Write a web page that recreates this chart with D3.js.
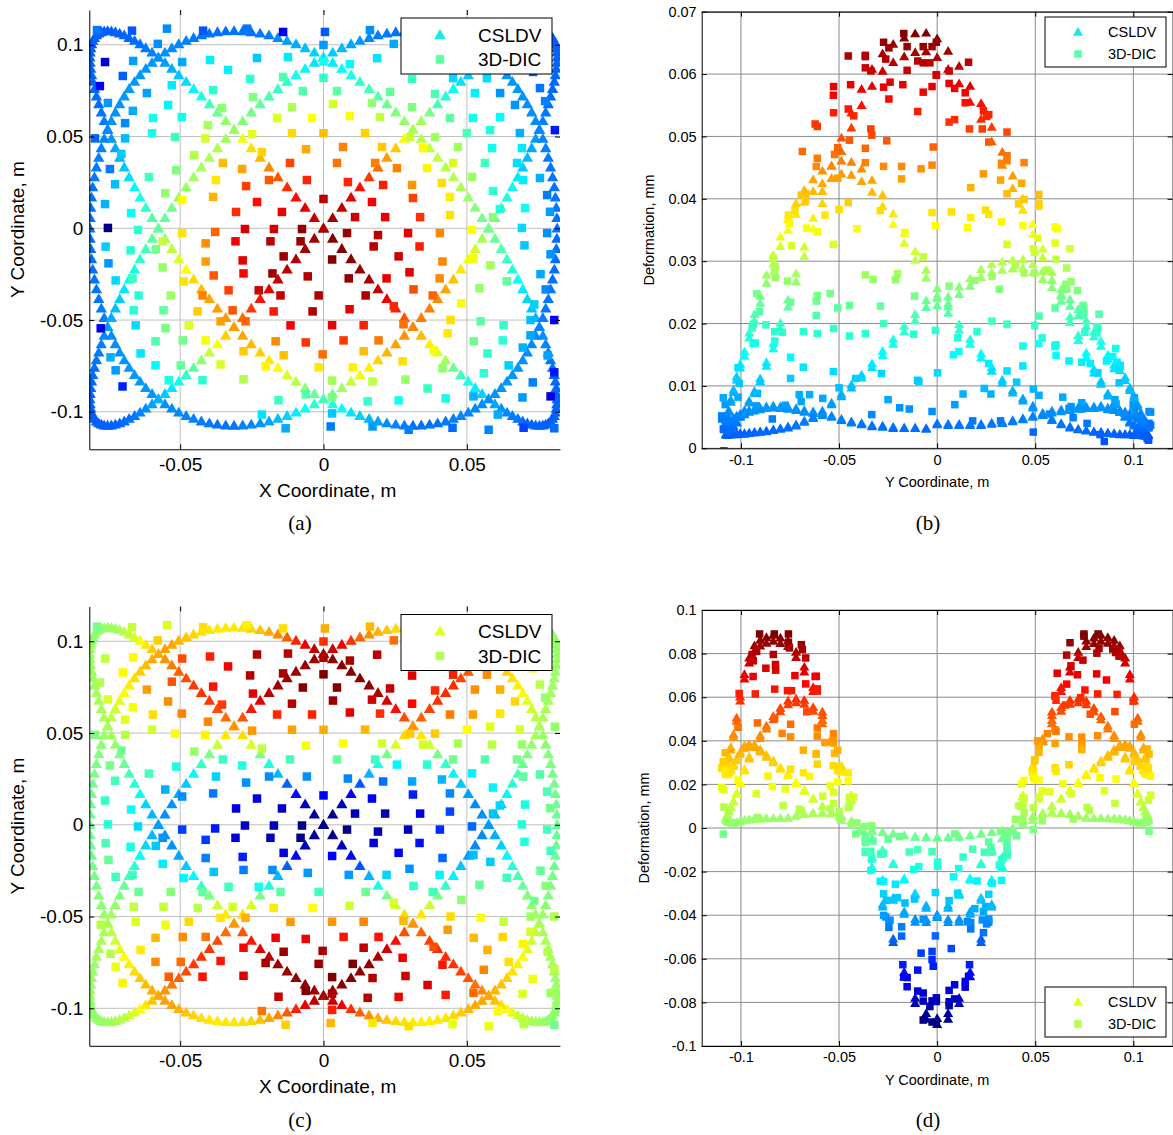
<!DOCTYPE html>
<html><head><meta charset="utf-8">
<script src="https://cdn.jsdelivr.net/npm/d3@7"></script>
<style>body{margin:0;background:#fff}</style>
</head><body>
<svg id="fig" width="1173" height="1135"></svg>
<script>
// CSLDV scan points: X/Y position on the plate (m)
const scanX = [
0,.0032,.0064,.0096,.0127,.0159,.0190,.0221,.0252,.0282,.0312,.0341,.0370,.0398,.0426,.0453,.0479,.0505,.0529,.0553,.0576,.0598,.0620,.0640,.0659,.0678,.0695,.0711,.0726,.0740,.0753,.0765,.0775,.0784,.0792,.0799,.0805,.0809,.0812,.0814,.0815,
.0814,.0812,.0809,.0805,.0799,.0792,.0784,.0775,.0765,.0753,.0740,.0726,.0711,.0695,.0678,.0659,.0640,.0620,.0598,.0576,.0553,.0529,.0505,.0479,.0453,.0426,.0398,.0370,.0341,.0312,.0282,.0252,.0221,.0190,.0159,.0127,.0096,.0064,.0032,0,
-.0032,-.0064,-.0096,-.0127,-.0159,-.0190,-.0221,-.0252,-.0282,-.0312,-.0341,-.0370,-.0398,-.0426,-.0453,-.0479,-.0505,-.0529,-.0553,-.0576,-.0598,-.0620,-.0640,-.0659,-.0678,-.0695,-.0711,-.0726,-.0740,-.0753,-.0765,-.0775,-.0784,-.0792,-.0799,-.0805,-.0809,-.0812,-.0814,-.0815,
-.0814,-.0812,-.0809,-.0805,-.0799,-.0792,-.0784,-.0775,-.0765,-.0753,-.0740,-.0726,-.0711,-.0695,-.0678,-.0659,-.0640,-.0620,-.0598,-.0576,-.0553,-.0529,-.0505,-.0479,-.0453,-.0426,-.0398,-.0370,-.0341,-.0312,-.0282,-.0252,-.0221,-.0190,-.0159,-.0127,-.0096,-.0064,-.0032,
0,.0032,.0064,.0096,.0127,.0159,.0190,.0221,.0252,.0282,.0312,.0341,.0370,.0398,.0426,.0453,.0479,.0505,.0529,.0553,.0576,.0598,.0620,.0640,.0659,.0678,.0695,.0711,.0726,.0740,.0753,.0765,.0775,.0784,.0792,.0799,.0805,.0809,.0812,.0814,.0815,
.0814,.0812,.0809,.0805,.0799,.0792,.0784,.0775,.0765,.0753,.0740,.0726,.0711,.0695,.0678,.0659,.0640,.0620,.0598,.0576,.0553,.0529,.0505,.0479,.0453,.0426,.0398,.0370,.0341,.0312,.0282,.0252,.0221,.0190,.0159,.0127,.0096,.0064,.0032,
0,-.0032,-.0064,-.0096,-.0127,-.0159,-.0190,-.0221,-.0252,-.0282,-.0312,-.0341,-.0370,-.0398,-.0426,-.0453,-.0479,-.0505,-.0529,-.0553,-.0576,-.0598,-.0620,-.0640,-.0659,-.0678,-.0695,-.0711,-.0726,-.0740,-.0753,-.0765,-.0775,-.0784,-.0792,-.0799,-.0805,-.0809,-.0812,-.0814,-.0815,
-.0814,-.0812,-.0809,-.0805,-.0799,-.0792,-.0784,-.0775,-.0765,-.0753,-.0740,-.0726,-.0711,-.0695,-.0678,-.0659,-.0640,-.0620,-.0598,-.0576,-.0553,-.0529,-.0505,-.0479,-.0453,-.0426,-.0398,-.0370,-.0341,-.0312,-.0282,-.0252,-.0221,-.0190,-.0159,-.0127,-.0096,-.0064,-.0032,0,
.0032,.0064,.0096,.0127,.0159,.0190,.0221,.0252,.0282,.0312,.0341,.0370,.0398,.0426,.0453,.0479,.0505,.0529,.0553,.0576,.0598,.0620,.0640,.0659,.0678,.0695,.0711,.0726,.0740,.0753,.0765,.0775,.0784,.0792,.0799,.0805,.0809,.0812,.0814,.0815,
.0814,.0812,.0809,.0805,.0799,.0792,.0784,.0775,.0765,.0753,.0740,.0726,.0711,.0695,.0678,.0659,.0640,.0620,.0598,.0576,.0553,.0529,.0505,.0479,.0453,.0426,.0398,.0370,.0341,.0312,.0282,.0252,.0221,.0190,.0159,.0127,.0096,.0064,.0032,
0,-.0032,-.0064,-.0096,-.0127,-.0159,-.0190,-.0221,-.0252,-.0282,-.0312,-.0341,-.0370,-.0398,-.0426,-.0453,-.0479,-.0505,-.0529,-.0553,-.0576,-.0598,-.0620,-.0640,-.0659,-.0678,-.0695,-.0711,-.0726,-.0740,-.0753,-.0765,-.0775,-.0784,-.0792,-.0799,-.0805,-.0809,-.0812,-.0814,-.0815,
-.0814,-.0812,-.0809,-.0805,-.0799,-.0792,-.0784,-.0775,-.0765,-.0753,-.0740,-.0726,-.0711,-.0695,-.0678,-.0659,-.0640,-.0620,-.0598,-.0576,-.0553,-.0529,-.0505,-.0479,-.0453,-.0426,-.0398,-.0370,-.0341,-.0312,-.0282,-.0252,-.0221,-.0190,-.0159,-.0127,-.0096,-.0064,-.0032
];
const scanY = [
0,.0056,.0112,.0168,.0224,.0278,.0332,.0385,.0437,.0488,.0538,.0585,.0632,.0677,.0719,.0760,.0799,.0835,.0870,.0902,.0931,.0958,.0982,.1004,.1022,.1038,.1052,.1062,.1069,.1074,.1075,
.1074,.1069,.1062,.1052,.1038,.1022,.1004,.0982,.0958,.0931,.0902,.0870,.0835,.0799,.0760,.0719,.0677,.0632,.0585,.0538,.0488,.0437,.0385,.0332,.0278,.0224,.0168,.0112,.0056,0,
-.0056,-.0112,-.0168,-.0224,-.0278,-.0332,-.0385,-.0437,-.0488,-.0538,-.0585,-.0632,-.0677,-.0719,-.0760,-.0799,-.0835,-.0870,-.0902,-.0931,-.0958,-.0982,-.1004,-.1022,-.1038,-.1052,-.1062,-.1069,-.1074,-.1075,
-.1074,-.1069,-.1062,-.1052,-.1038,-.1022,-.1004,-.0982,-.0958,-.0931,-.0902,-.0870,-.0835,-.0799,-.0760,-.0719,-.0677,-.0632,-.0585,-.0538,-.0488,-.0437,-.0385,-.0332,-.0278,-.0224,-.0168,-.0112,-.0056,
0,.0056,.0112,.0168,.0224,.0278,.0332,.0385,.0437,.0488,.0538,.0585,.0632,.0677,.0719,.0760,.0799,.0835,.0870,.0902,.0931,.0958,.0982,.1004,.1022,.1038,.1052,.1062,.1069,.1074,.1075,
.1074,.1069,.1062,.1052,.1038,.1022,.1004,.0982,.0958,.0931,.0902,.0870,.0835,.0799,.0760,.0719,.0677,.0632,.0585,.0538,.0488,.0437,.0385,.0332,.0278,.0224,.0168,.0112,.0056,0,
-.0056,-.0112,-.0168,-.0224,-.0278,-.0332,-.0385,-.0437,-.0488,-.0538,-.0585,-.0632,-.0677,-.0719,-.0760,-.0799,-.0835,-.0870,-.0902,-.0931,-.0958,-.0982,-.1004,-.1022,-.1038,-.1052,-.1062,-.1069,-.1074,-.1075,
-.1074,-.1069,-.1062,-.1052,-.1038,-.1022,-.1004,-.0982,-.0958,-.0931,-.0902,-.0870,-.0835,-.0799,-.0760,-.0719,-.0677,-.0632,-.0585,-.0538,-.0488,-.0437,-.0385,-.0332,-.0278,-.0224,-.0168,-.0112,-.0056,
0,.0056,.0112,.0168,.0224,.0278,.0332,.0385,.0437,.0488,.0538,.0585,.0632,.0677,.0719,.0760,.0799,.0835,.0870,.0902,.0931,.0958,.0982,.1004,.1022,.1038,.1052,.1062,.1069,.1074,.1075,
.1074,.1069,.1062,.1052,.1038,.1022,.1004,.0982,.0958,.0931,.0902,.0870,.0835,.0799,.0760,.0719,.0677,.0632,.0585,.0538,.0488,.0437,.0385,.0332,.0278,.0224,.0168,.0112,.0056,0,
-.0056,-.0112,-.0168,-.0224,-.0278,-.0332,-.0385,-.0437,-.0488,-.0538,-.0585,-.0632,-.0677,-.0719,-.0760,-.0799,-.0835,-.0870,-.0902,-.0931,-.0958,-.0982,-.1004,-.1022,-.1038,-.1052,-.1062,-.1069,-.1074,-.1075,
-.1074,-.1069,-.1062,-.1052,-.1038,-.1022,-.1004,-.0982,-.0958,-.0931,-.0902,-.0870,-.0835,-.0799,-.0760,-.0719,-.0677,-.0632,-.0585,-.0538,-.0488,-.0437,-.0385,-.0332,-.0278,-.0224,-.0168,-.0112,-.0056,
0,.0056,.0112,.0168,.0224,.0278,.0332,.0385,.0437,.0488,.0538,.0585,.0632,.0677,.0719,.0760,.0799,.0835,.0870,.0902,.0931,.0958,.0982,.1004,.1022,.1038,.1052,.1062,.1069,.1074,.1075,
.1074,.1069,.1062,.1052,.1038,.1022,.1004,.0982,.0958,.0931,.0902,.0870,.0835,.0799,.0760,.0719,.0677,.0632,.0585,.0538,.0488,.0437,.0385,.0332,.0278,.0224,.0168,.0112,.0056,0,
-.0056,-.0112,-.0168,-.0224,-.0278,-.0332,-.0385,-.0437,-.0488,-.0538,-.0585,-.0632,-.0677,-.0719,-.0760,-.0799,-.0835,-.0870,-.0902,-.0931,-.0958,-.0982,-.1004,-.1022,-.1038,-.1052,-.1062,-.1069,-.1074,-.1075,
-.1074,-.1069,-.1062,-.1052,-.1038,-.1022,-.1004,-.0982,-.0958,-.0931,-.0902,-.0870,-.0835,-.0799,-.0760,-.0719,-.0677,-.0632,-.0585,-.0538,-.0488,-.0437,-.0385,-.0332,-.0278,-.0224,-.0168,-.0112,-.0056
];
// CSLDV deformation along the scan, mode 1 (mm)
const scanDefA = [
.0657,.0637,.0613,.0581,.0553,.0515,.0475,.0437,.0400,.0359,.0320,.0282,.0247,.0211,.0181,.0153,.0127,.0108,.0088,.0073,
.0061,.0052,.0043,.0038,.0032,.0028,.0025,.0024,.0023,.0022,.0022,.0022,.0021,.0021,.0021,.0022,.0022,.0022,.0023,.0023,
.0023,.0024,.0025,.0026,.0027,.0029,.0031,.0035,.0040,.0047,.0056,.0068,.0080,.0093,.0110,.0130,.0152,.0175,.0199,.0227,
.0256,.0286,.0316,.0345,.0376,.0406,.0430,.0448,.0459,.0461,.0453,.0445,.0431,.0414,.0393,.0367,.0339,.0310,.0278,.0244,
.0215,.0185,.0155,.0135,.0115,.0094,.0078,.0061,.0052,.0048,.0037,.0036,.0037,.0039,.0044,.0048,.0052,.0055,.0057,.0061,
.0063,.0065,.0067,.0068,.0067,.0066,.0064,.0061,.0059,.0056,.0052,.0047,.0043,.0040,.0037,.0036,.0034,.0033,.0033,.0032,
.0040,.0039,.0039,.0039,.0039,.0041,.0042,.0045,.0048,.0052,.0056,.0060,.0062,.0064,.0066,.0067,.0067,.0068,.0065,.0064,
.0061,.0059,.0056,.0053,.0049,.0043,.0039,.0038,.0035,.0035,.0036,.0037,.0037,.0044,.0047,.0057,.0070,.0084,.0097,.0114,
.0131,.0134,.0150,.0172,.0187,.0205,.0223,.0239,.0255,.0270,.0284,.0295,.0303,.0302,.0299,.0295,.0287,.0272,.0259,.0243,
.0240,.0237,.0215,.0196,.0175,.0156,.0136,.0118,.0102,.0087,.0073,.0060,.0050,.0044,.0038,.0035,.0032,.0030,.0028,.0027,
.0026,.0025,.0024,.0024,.0023,.0023,.0023,.0023,.0022,.0023,.0023,.0024,.0025,.0027,.0031,.0036,.0043,.0052,.0061,.0076,
.0092,.0112,.0138,.0168,.0201,.0238,.0280,.0323,.0369,.0412,.0453,.0498,.0538,.0576,.0608,.0633,.0648,.0658,.0665,.0666,
.0627,.0608,.0585,.0555,.0528,.0492,.0454,.0417,.0382,.0343,.0306,.0269,.0236,.0202,.0173,.0146,.0121,.0103,.0084,.0070,
.0058,.0050,.0041,.0036,.0031,.0027,.0024,.0023,.0022,.0021,.0021,.0021,.0020,.0020,.0020,.0021,.0021,.0021,.0022,.0022,
.0022,.0023,.0024,.0025,.0026,.0028,.0030,.0033,.0038,.0045,.0053,.0065,.0076,.0089,.0105,.0124,.0145,.0167,.0190,.0217,
.0244,.0273,.0302,.0329,.0359,.0388,.0411,.0428,.0438,.0440,.0433,.0425,.0412,.0395,.0375,.0350,.0324,.0296,.0265,.0233,
.0205,.0177,.0148,.0129,.0110,.0090,.0074,.0058,.0050,.0046,.0035,.0034,.0035,.0037,.0042,.0046,.0050,.0053,.0054,.0058,
.0060,.0062,.0064,.0065,.0064,.0063,.0061,.0058,.0056,.0053,.0050,.0045,.0041,.0038,.0035,.0034,.0032,.0032,.0032,.0031,
.0038,.0037,.0037,.0037,.0037,.0039,.0040,.0043,.0046,.0050,.0053,.0057,.0059,.0061,.0063,.0064,.0064,.0065,.0062,.0061,
.0058,.0056,.0053,.0051,.0047,.0041,.0037,.0036,.0033,.0033,.0034,.0035,.0035,.0042,.0045,.0054,.0067,.0080,.0093,.0109,
.0125,.0128,.0143,.0164,.0179,.0196,.0213,.0228,.0244,.0258,.0271,.0282,.0289,.0288,.0286,.0282,.0274,.0260,.0247,.0232,
.0229,.0226,.0205,.0187,.0167,.0149,.0130,.0113,.0097,.0083,.0070,.0057,.0048,.0042,.0036,.0033,.0031,.0029,.0027,.0026,
.0025,.0024,.0023,.0023,.0022,.0022,.0022,.0022,.0021,.0022,.0022,.0023,.0024,.0026,.0030,.0034,.0041,.0050,.0058,.0073,
.0088,.0107,.0132,.0160,.0192,.0227,.0267,.0308,.0352,.0393,.0433,.0476,.0514,.0550,.0581,.0605,.0619,.0628,.0635,.0636
];
// CSLDV deformation along the scan, mode 2 (mm)
const scanDefC = [
-.0900,-.0876,-.0804,-.0681,-.0524,-.0361,-.0185,-.0016,.0151,.0286,.0409,.0494,.0554,.0587,.0593,.0584,.0550,.0513,.0469,.0425,
.0381,.0327,.0270,.0210,.0161,.0124,.0097,.0078,.0063,.0052,.0043,.0037,.0032,.0029,.0026,.0024,.0026,.0031,.0036,.0039,
.0042,.0043,.0044,.0045,.0045,.0047,.0057,.0065,.0070,.0071,.0068,.0054,.0032,-.0004,-.0048,-.0104,-.0167,-.0238,-.0308,-.0367,
-.0410,-.0432,-.0431,-.0395,-.0330,-.0245,-.0136,-.0013,.0130,.0265,.0409,.0533,.0646,.0739,.0807,.0859,.0873,.0885,.0875,.0862,
.0837,.0781,.0705,.0602,.0506,.0430,.0370,.0328,.0295,.0274,.0260,.0254,.0253,.0261,.0272,.0292,.0319,.0349,.0378,.0385,
.0381,.0361,.0335,.0309,.0278,.0248,.0211,.0175,.0137,.0101,.0068,.0038,.0017,-.0001,-.0013,-.0020,-.0027,-.0035,-.0041,-.0044,
-.0045,-.0044,-.0041,-.0035,-.0027,-.0020,-.0013,-.0001,.0017,.0038,.0068,.0101,.0137,.0175,.0211,.0248,.0278,.0309,.0335,.0361,
.0381,.0385,.0378,.0349,.0319,.0292,.0272,.0261,.0253,.0254,.0260,.0274,.0295,.0328,.0370,.0430,.0506,.0602,.0705,.0781,
.0837,.0862,.0875,.0885,.0873,.0859,.0807,.0739,.0646,.0533,.0409,.0265,.0130,-.0013,-.0136,-.0245,-.0330,-.0395,-.0431,-.0432,
-.0410,-.0367,-.0308,-.0238,-.0167,-.0104,-.0048,-.0004,.0032,.0054,.0068,.0071,.0070,.0065,.0057,.0047,.0045,.0045,.0044,.0043,
.0042,.0039,.0036,.0031,.0026,.0024,.0026,.0029,.0032,.0037,.0043,.0052,.0063,.0078,.0097,.0124,.0161,.0210,.0270,.0327,
.0381,.0425,.0469,.0513,.0550,.0584,.0593,.0587,.0554,.0494,.0409,.0286,.0151,-.0016,-.0185,-.0361,-.0524,-.0681,-.0804,-.0876,
-.0873,-.0850,-.0780,-.0661,-.0508,-.0350,-.0179,-.0016,.0146,.0277,.0397,.0479,.0537,.0569,.0575,.0566,.0534,.0498,.0455,.0412,
.0370,.0317,.0262,.0204,.0156,.0120,.0094,.0076,.0061,.0050,.0042,.0036,.0031,.0028,.0025,.0023,.0025,.0030,.0035,.0038,
.0041,.0042,.0043,.0044,.0044,.0046,.0055,.0063,.0068,.0069,.0066,.0052,.0031,-.0004,-.0047,-.0101,-.0162,-.0231,-.0299,-.0356,
-.0398,-.0419,-.0418,-.0383,-.0320,-.0238,-.0132,-.0013,.0126,.0257,.0397,.0517,.0627,.0717,.0783,.0833,.0847,.0858,.0849,.0836,
.0812,.0758,.0684,.0584,.0491,.0417,.0359,.0318,.0286,.0266,.0252,.0246,.0245,.0253,.0264,.0283,.0309,.0339,.0367,.0373,
.0370,.0350,.0325,.0300,.0270,.0241,.0205,.0170,.0133,.0098,.0066,.0037,.0016,-.0001,-.0013,-.0019,-.0026,-.0034,-.0040,-.0043,
-.0044,-.0043,-.0040,-.0034,-.0026,-.0019,-.0013,-.0001,.0016,.0037,.0066,.0098,.0133,.0170,.0205,.0241,.0270,.0300,.0325,.0350,
.0370,.0373,.0367,.0339,.0309,.0283,.0264,.0253,.0245,.0246,.0252,.0266,.0286,.0318,.0359,.0417,.0491,.0584,.0684,.0758,
.0812,.0836,.0849,.0858,.0847,.0833,.0783,.0717,.0627,.0517,.0397,.0257,.0126,-.0013,-.0132,-.0238,-.0320,-.0383,-.0418,-.0419,
-.0398,-.0356,-.0299,-.0231,-.0162,-.0101,-.0047,-.0004,.0031,.0052,.0066,.0069,.0068,.0063,.0055,.0046,.0044,.0044,.0043,.0042,
.0041,.0038,.0035,.0030,.0025,.0023,.0025,.0028,.0031,.0036,.0042,.0050,.0061,.0076,.0094,.0120,.0156,.0204,.0262,.0317,
.0370,.0412,.0455,.0498,.0534,.0566,.0575,.0569,.0537,.0479,.0397,.0277,.0146,-.0016,-.0179,-.0350,-.0508,-.0661,-.0780,-.0850
];

// 3D-DIC measurement points: X/Y position (m)
const dicX = [
-.0790,-.0668,-.0546,-.0420,-.0267,-.0141,.0005,-.0578,0,-.0762,-.0664,-.0493,-.0396,-.0232,-.0124,0,-.0700,-.0529,-.0333,-.0256,-.0141,0,-.0780,-.0616,-.0385,
-.0246,-.0072,-.0752,-.0665,-.0542,-.0354,-.0110,-.0595,-.0494,-.0162,-.0040,-.0692,-.0403,-.0797,-.0692,-.0598,-.0518,-.0413,-.0249,-.0110,0,-.0745,-.0609,-.0514,
-.0451,-.0351,-.0284,-.0117,-.0061,-.0727,-.0552,-.0375,-.0270,-.0190,-.0058,-.0762,-.0671,-.0493,-.0385,-.0305,-.0232,-.0145,0,-.0752,-.0647,-.0493,-.0378,-.0274,
-.0173,-.0075,-.0705,-.0215,.0162,.0092,.0187,.0309,.0452,.0570,.0047,.0232,.0528,.0616,.0033,.0169,.0309,.0389,.0521,.0616,.0668,.0755,.0773,.0731,.0092,.0197,
.0441,.0581,.0685,.0807,.0389,.0500,.0145,.0302,.0068,.0204,.0347,.0469,.0588,.0692,.0047,.0180,.0256,.0361,.0452,.0563,.0675,.0755,.0085,.0208,.0309,.0413,.0518,
.0591,.0696,.0780,.0169,.0312,.0441,.0703,.0110,.0215,.0337,.0441,.0591,.0082,.0190,.0295,.0406,.0518,.0692,.0780,.0245,.0615,.0790,
.0805,.0698,.0576,.0450,.0297,.0171,.0025,.0608,.0030,.0792,.0694,.0523,.0426,.0262,.0154,.0030,.0730,.0559,.0363,.0286,.0171,.0030,.0805,.0646,.0415,
.0276,.0102,.0782,.0695,.0572,.0384,.0140,.0625,.0524,.0192,.0070,.0722,.0433,.0805,.0722,.0628,.0548,.0443,.0279,.0140,.0030,.0775,.0639,.0544,
.0481,.0381,.0314,.0147,.0091,.0757,.0582,.0405,.0300,.0220,.0088,.0792,.0701,.0523,.0415,.0335,.0262,.0175,.0030,.0735,.0245,
-.0132,-.0062,-.0157,-.0279,-.0422,-.0540,-.0017,-.0202,-.0498,-.0586,-.0003,-.0139,-.0279,-.0359,-.0491,-.0586,-.0638,-.0725,-.0743,-.0701,-.0062,-.0167,
-.0411,-.0551,-.0655,-.0777,-.0359,-.0470,-.0115,-.0272,-.0038,-.0174,-.0317,-.0439,-.0558,-.0662,-.0017,-.0150,-.0226,-.0331,-.0422,-.0533,-.0645,-.0725,
-.0055,-.0178,-.0279,-.0383,-.0488,-.0561,-.0666,-.0750,-.0139,-.0282,-.0411,-.0673,-.0080,-.0185,-.0307,-.0411,-.0561,-.0215,-.0585,-.0760
];
const dicY = [
.1080,.1077,.1088,.1077,.1088,.1070,.1070,.1005,.0999,.0906,.0912,.0906,.0917,.0928,.0933,.0910,.0830,.0780,.0863,.0814,.0825,.0820,.0775,.0737,.0753,
.0715,.0748,.0683,.0640,.0672,.0655,.0660,.0601,.0606,.0601,.0601,.0573,.0562,.0490,.0490,.0518,.0497,.0490,.0513,.0518,.0518,.0323,.0279,.0317,
.0399,.0356,.0323,.0356,.0431,.0240,.0192,.0263,.0230,.0263,.0263,.0132,.0083,.0154,.0171,.0089,.0143,.0089,.0160,.0002,-.0009,-.0026,-.0020,-.0004,
-.0004,-.0004,.0405,.0415,.1080,.0895,.0927,.0813,.0818,.0818,.0748,.0743,.0737,.0737,.0677,.0682,.0660,.0732,.0601,.0606,.0672,.0764,.0693,.0852,.0612,.0606,
.0601,.0535,.0519,.0535,.0497,.0519,.0519,.0497,.0443,.0443,.0437,.0443,.0437,.0437,.0356,.0356,.0328,.0328,.0356,.0356,.0356,.0274,.0252,.0236,.0236,.0247,.0280,
.0203,.0263,.0181,.0143,.0165,.0171,.0110,.0061,.0061,.0061,.0072,.0061,-.0026,-.0037,-.0026,-.0026,-.0009,.0002,-.0026,.1005,.0105,.0090,
-.1090,-.1087,-.1098,-.1087,-.1098,-.1080,-.1080,-.1015,-.1009,-.0916,-.0922,-.0916,-.0927,-.0938,-.0943,-.0920,-.0840,-.0790,-.0873,-.0824,-.0835,-.0830,-.0785,-.0747,-.0763,
-.0725,-.0758,-.0693,-.0650,-.0682,-.0665,-.0670,-.0611,-.0616,-.0611,-.0611,-.0583,-.0572,-.0500,-.0500,-.0528,-.0507,-.0500,-.0523,-.0528,-.0528,-.0333,-.0289,-.0327,
-.0409,-.0366,-.0333,-.0366,-.0441,-.0250,-.0202,-.0273,-.0240,-.0273,-.0273,-.0142,-.0093,-.0164,-.0181,-.0099,-.0153,-.0099,-.0170,-.0415,-.0425,
-.1090,-.0905,-.0937,-.0823,-.0828,-.0828,-.0758,-.0753,-.0747,-.0747,-.0687,-.0692,-.0670,-.0742,-.0611,-.0616,-.0682,-.0774,-.0703,-.0862,-.0622,-.0616,
-.0611,-.0545,-.0529,-.0545,-.0507,-.0529,-.0529,-.0507,-.0453,-.0453,-.0447,-.0453,-.0447,-.0447,-.0366,-.0366,-.0338,-.0338,-.0366,-.0366,-.0366,-.0284,
-.0262,-.0246,-.0246,-.0257,-.0290,-.0213,-.0273,-.0191,-.0153,-.0175,-.0181,-.0120,-.0071,-.0071,-.0071,-.0082,-.0071,-.1015,-.0115,-.0100
];
// 3D-DIC deformation, mode 1 and mode 2 (mm)
const dicDefA = [
.0040,.0014,.0058,.0013,.0037,-.0070,.0016,.0059,.0069,-.0100,.0071,.0078,.0138,.0105,.0133,.0160,.0022,.0136,.0140,.0185,.0215,.0192,-.0060,.0073,.0186,
.0253,.0215,.0067,.0082,.0140,.0263,.0289,.0164,.0166,.0329,.0355,.0055,.0286,.0026,.0095,.0168,.0197,.0320,.0337,.0388,.0407,.0044,.0204,.0255,
.0294,.0408,.0430,.0507,.0425,.0096,.0269,.0375,.0512,.0491,.0535,.0087,.0150,.0354,.0418,.0527,.0554,.0577,.0619,-.0160,.0189,.0378,.0483,.0598,
.0599,.0651,.0106,.0392,.0059,.0147,.0129,.0195,.0121,.0121,.0226,.0229,.0138,.0063,.0320,.0267,.0255,.0213,.0163,.0149,.0064,.0040,.0049,.0011,.0352,.0303,
.0225,.0177,.0085,-.0040,.0281,.0212,.0392,.0314,.0458,.0399,.0357,.0281,.0164,.0132,.0469,.0461,.0457,.0363,.0327,.0199,.0124,.0087,.0532,.0541,.0440,.0382,.0276,
.0187,.0136,.0044,.0570,.0512,.0370,.0155,.0605,.0585,.0523,.0379,.0260,.0644,.0618,.0580,.0454,.0357,.0121,.0059,.0081,.0177,.0070,
.0031,-.0004,.0052,.0030,.0047,.0070,.0043,.0082,.0104,-.0080,.0068,.0088,.0169,.0168,.0193,.0248,.0047,.0186,.0198,.0274,.0305,.0283,-.0040,.0112,.0268,
.0381,.0367,.0075,.0086,.0187,.0353,.0408,.0184,.0236,.0465,.0516,.0080,.0374,-.0060,.0097,.0192,.0225,.0383,.0471,.0538,.0580,.0054,.0228,.0271,
.0352,.0481,.0502,.0630,.0583,.0078,.0280,.0452,.0587,.0579,.0651,.0063,.0107,.0346,.0452,.0540,.0606,.0621,.0665,.0112,.0533,
.0081,.0219,.0199,.0291,.0187,.0172,.0374,.0361,.0234,.0146,.0476,.0406,.0398,.0325,.0245,.0213,.0130,.0069,.0086,-.0030,.0520,.0452,
.0347,.0248,.0123,-.0070,.0433,.0327,.0566,.0482,.0629,.0544,.0494,.0394,.0229,.0180,.0628,.0610,.0605,.0512,.0458,.0278,.0184,.0120,
.0624,.0642,.0560,.0493,.0381,.0270,.0200,.0065,.0644,.0583,.0432,.0183,.0644,.0618,.0571,.0448,.0307,.0129,.0244,.0109
];
const dicDefC = [
-.0015,.0127,.0151,.0274,.0238,.0278,.0362,.0303,.0582,.0113,.0225,.0534,.0613,.0803,.0792,.0805,.0230,.0522,.0679,.0802,.0824,.0890,.0080,.0390,.0633,
.0703,.0880,.0156,.0202,.0418,.0564,.0793,.0276,.0443,.0604,.0607,.0166,.0433,-.0007,.0093,.0134,.0223,.0233,.0400,.0384,.0364,-.0015,-.0111,-.0171,
.0040,-.0125,-.0170,-.0105,.0201,-.0111,-.0370,-.0304,-.0422,-.0432,-.0418,-.0133,-.0224,-.0430,-.0463,-.0719,-.0730,-.0784,-.0680,-.0156,-.0296,-.0566,-.0634,-.0779,
-.0796,-.0890,-.0036,.0102,.0339,.0821,.0788,.0707,.0615,.0423,.0890,.0770,.0417,.0360,.0850,.0744,.0660,.0598,.0388,.0260,.0290,.0095,.0041,.0171,.0710,.0586,
.0450,.0171,.0142,.0033,.0308,.0220,.0347,.0313,.0218,.0136,.0138,.0072,.0100,.0040,-.0057,-.0122,-.0240,-.0146,-.0030,-.0082,-.0021,-.0090,-.0440,-.0480,-.0383,-.0360,-.0253,
-.0243,-.0064,-.0097,-.0704,-.0627,-.0434,-.0186,-.0797,-.0815,-.0745,-.0553,-.0333,-.0890,-.0819,-.0793,-.0603,-.0495,-.0175,-.0109,.0476,-.0299,-.0027,
-.0028,.0096,.0185,.0176,.0275,.0258,.0345,.0220,.0617,.0048,.0157,.0482,.0615,.0695,.0796,.0810,.0190,.0434,.0733,.0750,.0796,.0890,.0103,.0270,.0630,
.0699,.0890,.0079,.0237,.0357,.0533,.0780,.0293,.0339,.0638,.0628,.0146,.0392,.0075,.0048,.0113,.0211,.0279,.0342,.0433,.0401,.0010,-.0120,-.0060,
.0024,-.0110,-.0143,-.0037,.0138,-.0052,-.0320,-.0245,-.0423,-.0302,-.0401,-.0110,-.0177,-.0344,-.0496,-.0652,-.0686,-.0748,-.0684,-.0027,.0142,
.0304,.0890,.0767,.0724,.0637,.0504,.0852,.0826,.0476,.0418,.0819,.0841,.0661,.0630,.0422,.0341,.0254,.0179,.0086,.0238,.0695,.0696,
.0459,.0193,.0163,.0089,.0263,.0286,.0390,.0357,.0216,.0253,.0142,.0095,.0116,.0101,-.0111,-.0067,-.0195,-.0107,-.0056,.0007,-.0048,-.0118,
-.0408,-.0425,-.0456,-.0332,-.0245,-.0258,-.0118,-.0039,-.0728,-.0627,-.0453,-.0190,-.0881,-.0794,-.0757,-.0574,-.0419,.0462,-.0326,-.0099
];

// axis ticks and their labels
const mapTicksX = [-0.05, 0, 0.05];
const mapTickLabelsX = ["-0.05", "0", "0.05"];
const mapTicksY = [-0.1, -0.05, 0, 0.05, 0.1];
const mapTickLabelsY = ["-0.1", "-0.05", "0", "0.05", "0.1"];
const profTicksX = [-0.1, -0.05, 0, 0.05, 0.1];
const profTickLabelsX = ["-0.1", "-0.05", "0", "0.05", "0.1"];
const profTicksYb = [0, 0.01, 0.02, 0.03, 0.04, 0.05, 0.06, 0.07];
const profTickLabelsYb = ["0", "0.01", "0.02", "0.03", "0.04", "0.05", "0.06", "0.07"];
const profTicksYd = [-0.1, -0.08, -0.06, -0.04, -0.02, 0, 0.02, 0.04, 0.06, 0.08, 0.1];
const profTickLabelsYd = ["-0.1", "-0.08", "-0.06", "-0.04", "-0.02", "0", "0.02", "0.04", "0.06", "0.08", "0.1"];
const seriesNames = ["CSLDV", "3D-DIC"];
const panelTags = ["(a)", "(b)", "(c)", "(d)"];

// MATLAB-style jet colormap
function jet(v) {
  v = Math.max(0, Math.min(1, v));
  const f = t => Math.max(0, Math.min(1, 1.5 - Math.abs(t)));
  return d3.rgb(255 * f(4 * v - 3), 255 * f(4 * v - 2), 255 * f(4 * v - 1)).formatHex();
}

const svg = d3.select("#fig");
const SANS = "Liberation Sans, Arial, sans-serif";
const SERIF = "Liberation Serif, Times New Roman, serif";
let clipId = 0;

function drawPanel(p) {
  const x = d3.scaleLinear().domain(p.xDom).range([p.l, p.r]);
  const y = d3.scaleLinear().domain(p.yDom).range([p.b, p.t]);
  const g = svg.append("g");

  // grid
  g.append("g").selectAll("line").data(p.xt).join("line")
    .attr("x1", d => x(d)).attr("x2", d => x(d)).attr("y1", p.t).attr("y2", p.b)
    .attr("stroke", p.gridColor).attr("stroke-width", 1);
  g.append("g").selectAll("line").data(p.yt).join("line")
    .attr("y1", d => y(d)).attr("y2", d => y(d)).attr("x1", p.l).attr("x2", p.r)
    .attr("stroke", p.gridColor).attr("stroke-width", 1);

  // markers: scan triangles first, DIC squares on top
  const id = "clip" + (clipId++);
  svg.append("clipPath").attr("id", id).append("rect")
    .attr("x", p.l).attr("y", p.t).attr("width", p.r - p.l).attr("height", p.b - p.t);
  const color = d3.scaleLinear().domain(d3.extent([...p.tri.c, ...p.sq.c])).range([0, 1]);
  const mk = g.append("g").attr("clip-path", `url(#${id})`);
  const tri = d3.symbol(d3.symbolTriangle, p.triSize);
  mk.append("g").selectAll("path").data(d3.range(p.tri.x.length)).join("path")
    .attr("d", tri)
    .attr("transform", i => `translate(${x(p.tri.x[i])},${y(p.tri.y[i]) + 0.8})`)
    .attr("fill", i => jet(color(p.tri.c[i])));
  mk.append("g").selectAll("rect").data(d3.range(p.sq.x.length)).join("rect")
    .attr("x", i => x(p.sq.x[i]) - p.sqSize / 2).attr("y", i => y(p.sq.y[i]) - p.sqSize / 2)
    .attr("width", p.sqSize).attr("height", p.sqSize)
    .attr("fill", i => jet(color(p.sq.c[i])));

  // axes (ticks inward, MATLAB style)
  const fmt = (vals, labels) => d => labels[vals.indexOf(d)];
  const ax = (gen, tr) => g.append("g").attr("transform", tr).call(gen)
    .call(s => s.selectAll("text").attr("font-family", SANS).attr("font-size", p.fs).attr("fill", "#000"))
    .call(s => s.selectAll("line").attr("stroke", "#000"));
  const bottom = ax(d3.axisBottom(x).tickValues(p.xt).tickFormat(fmt(p.xt, p.xl)).tickSize(-p.tk).tickPadding(p.padX).tickSizeOuter(0), `translate(0,${p.b})`);
  const left = ax(d3.axisLeft(y).tickValues(p.yt).tickFormat(fmt(p.yt, p.yl)).tickSize(-p.tk).tickPadding(p.padY).tickSizeOuter(0), `translate(${p.l},0)`);
  bottom.select(".domain").attr("stroke", "#000");
  left.select(".domain").attr("stroke", "#000");
  const top = ax(d3.axisTop(x).tickValues(p.xt).tickFormat("").tickSize(-p.tk).tickSizeOuter(0), `translate(0,${p.t})`);
  const right = ax(d3.axisRight(y).tickValues(p.yt).tickFormat("").tickSize(-p.tk).tickSizeOuter(0), `translate(${p.r},0)`);
  top.select(".domain").attr("stroke", p.frameTR);
  right.select(".domain").attr("stroke", p.frameTR);

  // titles
  g.append("text").attr("x", (p.l + p.r) / 2 + p.xtDx).attr("y", p.xtY).attr("text-anchor", "middle")
    .attr("font-family", SANS).attr("font-size", p.ts).text(p.xTitle);
  g.append("text").attr("transform", `translate(${p.ytX},${(p.t + p.b) / 2}) rotate(-90)`)
    .attr("text-anchor", "middle").attr("font-family", SANS).attr("font-size", p.ts).text(p.yTitle);
  g.append("text").attr("x", p.tagX).attr("y", p.tagY).attr("text-anchor", "middle")
    .attr("font-family", SERIF).attr("font-size", 21).text(p.tag);

  // legend
  const L = p.leg;
  const lg = g.append("g");
  lg.append("rect").attr("x", L.x).attr("y", L.y).attr("width", L.w).attr("height", L.h)
    .attr("fill", "#fff").attr("stroke", "#000").attr("stroke-width", 1);
  lg.append("path").attr("d", d3.symbol(d3.symbolTriangle, p.triSize)).attr("fill", L.triColor)
    .attr("transform", `translate(${L.mx},${L.y + L.h * 0.3 + 0.8})`);
  lg.append("rect").attr("x", L.mx - p.sqSize / 2).attr("y", L.y + L.h * 0.74 - p.sqSize / 2)
    .attr("width", p.sqSize).attr("height", p.sqSize).attr("fill", L.sqColor);
  seriesNames.forEach((s, k) => lg.append("text").attr("x", L.tx).attr("y", L.y + L.h * (k ? 0.74 : 0.3))
    .attr("dy", "0.36em").attr("font-family", SANS).attr("font-size", L.fs).text(s));
}

const mapCommon = {
  l: 89.3, r: 560, xDom: [-0.08169, 0.08249], yDom: [-0.12044, 0.11896],
  xt: mapTicksX, xl: mapTickLabelsX, yt: mapTicksY, yl: mapTickLabelsY,
  gridColor: "#c0c0c0", frameTR: "none", fs: 19, ts: 19, tk: 5, padX: 8, padY: 6,
  triSize: 56, sqSize: 8.5, xTitle: "X Coordinate, m", yTitle: "Y Coordinate, m",
  xtDx: 3, ytX: 24, tagX: 300
};
const profCommon = {
  l: 701.7, r: 1172.6, xDom: [-0.12, 0.12],
  xt: profTicksX, xl: profTickLabelsX,
  gridColor: "#8c8c8c", frameTR: "#000", fs: 14.5, ts: 14.5, tk: 5, padX: 6, padY: 5,
  triSize: 44, sqSize: 7.5, xTitle: "Y Coordinate, m", yTitle: "Deformation, mm",
  xtDx: 0, tagX: 928
};

drawPanel(Object.assign({}, mapCommon, {
  t: 10, b: 449.3, xtY: 497, tagY: 530, tag: panelTags[0],
  tri: { x: scanX, y: scanY, c: scanDefA }, sq: { x: dicX, y: dicY, c: dicDefA },
  leg: { x: 401, y: 18, w: 151, h: 56, mx: 440, tx: 478, fs: 19, triColor: "#19e8e8", sqColor: "#5cffa3" }
}));
drawPanel(Object.assign({}, mapCommon, {
  t: 606.5, b: 1045.8, xtY: 1093, tagY: 1127, tag: panelTags[2],
  tri: { x: scanX, y: scanY, c: scanDefC }, sq: { x: dicX, y: dicY, c: dicDefC },
  leg: { x: 401, y: 614.5, w: 151, h: 56, mx: 440, tx: 478, fs: 19, triColor: "#e1ff1e", sqColor: "#b4ff4b" }
}));
drawPanel(Object.assign({}, profCommon, {
  t: 11.7, b: 448.3, yDom: [0, 0.07], yt: profTicksYb, yl: profTickLabelsYb,
  xtY: 487, ytX: 654, tagY: 530, tag: panelTags[1],
  tri: { x: scanY, y: scanDefA, c: scanDefA }, sq: { x: dicY, y: dicDefA, c: dicDefA },
  leg: { x: 1045, y: 17, w: 121, h: 50, mx: 1078, tx: 1108, fs: 14.5, triColor: "#19e8e8", sqColor: "#5cffa3" }
}));
drawPanel(Object.assign({}, profCommon, {
  t: 610, b: 1046, yDom: [-0.1, 0.1], yt: profTicksYd, yl: profTickLabelsYd,
  xtY: 1085, ytX: 649, tagY: 1127, tag: panelTags[3],
  tri: { x: scanY, y: scanDefC, c: scanDefC }, sq: { x: dicY, y: dicDefC, c: dicDefC },
  leg: { x: 1045, y: 987, w: 121, h: 50, mx: 1078, tx: 1108, fs: 14.5, triColor: "#e1ff1e", sqColor: "#b4ff4b" }
}));
</script>
</body></html>
